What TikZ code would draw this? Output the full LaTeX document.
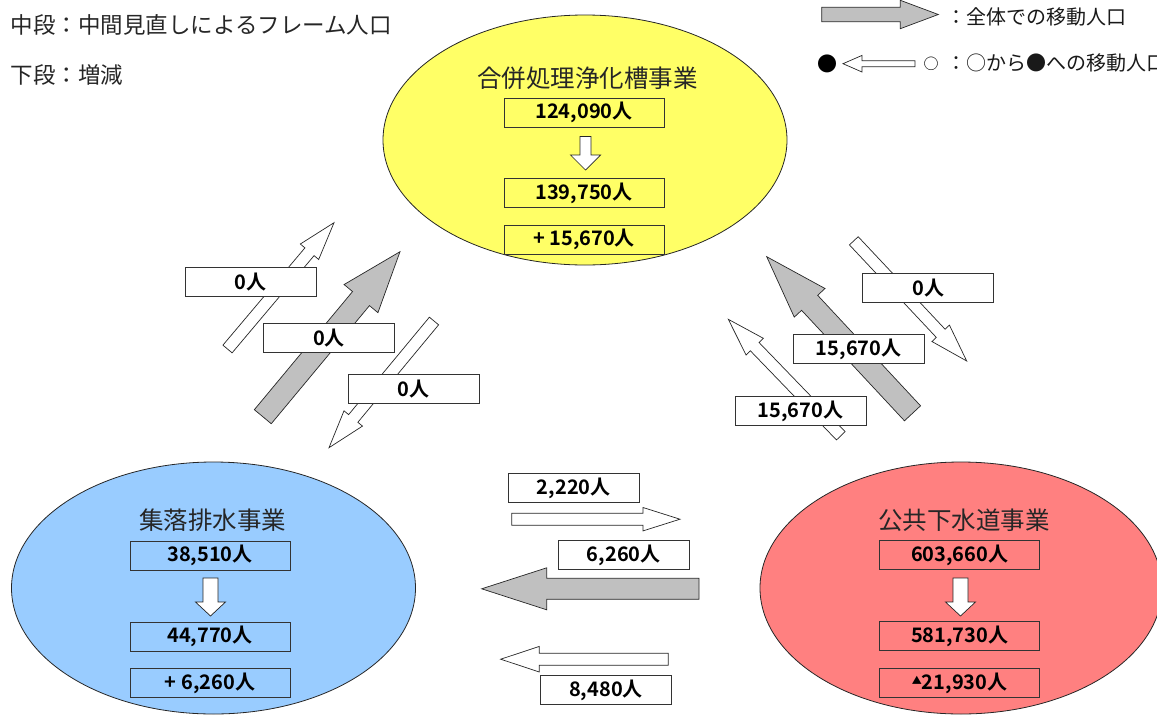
\documentclass[tikz,border=0pt]{standalone}
\usepackage{fontspec}
\setmainfont{Noto Sans CJK JP}[BoldFont={Noto Sans CJK JP Bold}]
\usetikzlibrary{calc,shapes.geometric}
\definecolor{ylw}{RGB}{255,255,102}
\definecolor{blu}{RGB}{153,204,255}
\definecolor{rd}{RGB}{255,128,128}
\definecolor{gry}{RGB}{192,192,192}
% #1 style, #2 tail coordinate, #3 tip coordinate, #4 half shaft width, #5 half head width, #6 head length
\newcommand{\blockarrow}[6]{%
  \coordinate (baneck) at ($(#3)!#6!(#2)$);
  \draw[#1] ($(#2)!#4!90:(#3)$) -- ($(baneck)!#4!-90:(#2)$) -- ($(baneck)!#5!-90:(#2)$) -- (#3)
    -- ($(baneck)!#5!90:(#2)$) -- ($(baneck)!#4!90:(#2)$) -- ($(#2)!#4!-90:(#3)$) -- cycle;}
\tikzset{
  whitearrow/.style={draw=black!85, fill=white, line width=0.7pt, line join=miter},
  grayarrow/.style={draw=black!85, fill=gry, line width=0.7pt, line join=miter},
  zone/.style={ellipse, draw=black!85, line width=0.8pt, inner sep=0pt},
  numbox/.style={draw=black!80, line width=0.8pt, minimum width=160pt, minimum height=29pt,
    inner sep=0pt, font=\bfseries\fontsize{20}{24}\selectfont},
  labelbox/.style={numbox, fill=white, minimum width=131pt},
  title/.style={font=\fontsize{24.5}{28}\selectfont, text=black!85, inner sep=0pt},
  caption/.style={font=\fontsize{22.5}{26}\selectfont, anchor=west, inner sep=0pt, text=black!85},
  legend/.style={font=\fontsize{20}{24}\selectfont, anchor=west, inner sep=0pt, text=black!90},
  sym/.style={font=\fontsize{20}{24}\selectfont, inner sep=0pt}
}
\begin{document}
\begin{tikzpicture}[x=1pt,y=-1pt]
\useasboundingbox (0,0) rectangle (1157,718);
% captions
\node[caption] (cap1) at (10.5,25) {中段：中間見直しによるフレーム人口};
\node[caption] (cap2) at (10.5,75) {下段：増減};
% legend
\coordinate (lg1s) at (821.7,14.5); \coordinate (lg1e) at (938.3,14.5);
\blockarrow{grayarrow}{lg1s}{lg1e}{7.2pt}{14.2pt}{38pt}
\node[legend] (lgt1) at (946.5,17) {：全体での移動人口};
\node[sym] (lgdot) at (827.5,64) {●};
\coordinate (lg2s) at (915,63.7); \coordinate (lg2e) at (843,63.7);
\blockarrow{whitearrow}{lg2s}{lg2e}{3pt}{8.3pt}{19pt}
\node[sym, font=\fontsize{15}{18}\selectfont] (lgcirc) at (931,64) {○};
\node[legend] (lgt2) at (946.5,63) {：○から●への移動人口};

% zones
\node[zone, fill=ylw, minimum width=404pt, minimum height=250pt] (yz) at (585,140) {};
\node[zone, fill=blu, minimum width=404pt, minimum height=252pt] (bz) at (213.5,588) {};
\node[zone, fill=rd, minimum width=402pt, minimum height=252pt] (rz) at (961,588) {};

% yellow contents
\node[title] (yt) at (587.5,78) {合併処理浄化槽事業};
\node[numbox] (yb1) at (584,112.5) {124,090人};
\node[numbox] (yb2) at (584,193) {139,750人};
\node[numbox] (yb3) at (584,239.5) {+ 15,670人};
\coordinate (yds) at (585.5,136.5); \coordinate (yde) at (585.5,170);
\blockarrow{whitearrow}{yds}{yde}{5.5pt}{15pt}{15pt}

% blue contents
\node[title] (bt) at (212.5,520) {集落排水事業};
\node[numbox] (bb1) at (210,555.5) {38,510人};
\node[numbox] (bb2) at (210,636.5) {44,770人};
\node[numbox] (bb3) at (210,683) {+ 6,260人};
\coordinate (bds) at (210.5,578); \coordinate (bde) at (210.5,616);
\blockarrow{whitearrow}{bds}{bde}{7.5pt}{15pt}{14pt}

% red contents
\node[title] (rt) at (964,520) {公共下水道事業};
\node[numbox] (rb1) at (959.7,555.3) {603,660人};
\node[numbox] (rb2) at (959.7,636.2) {581,730人};
\node[numbox] (rb3) at (959.7,683) {\raisebox{4.5pt}{\fontsize{10}{10}\selectfont ▲}21,930人};
\coordinate (rds) at (960.5,578); \coordinate (rde) at (960.5,616);
\blockarrow{whitearrow}{rds}{rde}{7.5pt}{15pt}{14pt}

% left group arrows
\coordinate (lwus) at (227.5,349); \coordinate (lwue) at (334,222.7);
\blockarrow{whitearrow}{lwus}{lwue}{6pt}{12pt}{38pt}
\coordinate (lgus) at (262.8,416.7); \coordinate (lgue) at (400,251.7);
\blockarrow{grayarrow}{lgus}{lgue}{11pt}{22pt}{61pt}
\coordinate (lwds) at (434,321); \coordinate (lwde) at (329,447.7);
\blockarrow{whitearrow}{lwds}{lwde}{6pt}{12pt}{38pt}

% right group arrows
\coordinate (rwds) at (853.8,240.8); \coordinate (rwde) at (966.7,361);
\blockarrow{whitearrow}{rwds}{rwde}{6pt}{12pt}{38pt}
\coordinate (rgus) at (912.5,413.3); \coordinate (rgue) at (766.7,256.7);
\blockarrow{grayarrow}{rgus}{rgue}{11pt}{21pt}{63pt}
\coordinate (rwus) at (840.8,435.8); \coordinate (rwue) at (728.3,319.3);
\blockarrow{whitearrow}{rwus}{rwue}{6pt}{12pt}{38pt}

% bottom arrows
\coordinate (bwrs) at (511.7,519.2); \coordinate (bwre) at (680,519.2);
\blockarrow{whitearrow}{bwrs}{bwre}{6pt}{11.7pt}{37pt}
\coordinate (bgls) at (699,588.8); \coordinate (bgle) at (481.7,588.8);
\blockarrow{grayarrow}{bgls}{bgle}{10.5pt}{21pt}{65pt}
\coordinate (bwls) at (668.3,659.2); \coordinate (bwle) at (500.7,659.2);
\blockarrow{whitearrow}{bwls}{bwle}{6pt}{12.8pt}{38.6pt}

% label boxes
\node[labelbox] (l1) at (250.5,282) {0人};
\node[labelbox] (l2) at (329,338) {0人};
\node[labelbox] (l3) at (413.7,389) {0人};
\node[labelbox] (r1) at (928.2,288) {0人};
\node[labelbox] (r2) at (858.7,349) {15,670人};
\node[labelbox] (r3) at (800.5,411) {15,670人};
\node[labelbox] (b1) at (573.8,488) {2,220人};
\node[labelbox] (b2) at (623.8,555) {6,260人};
\node[labelbox] (b3) at (606,690) {8,480人};
\end{tikzpicture}
\end{document}
